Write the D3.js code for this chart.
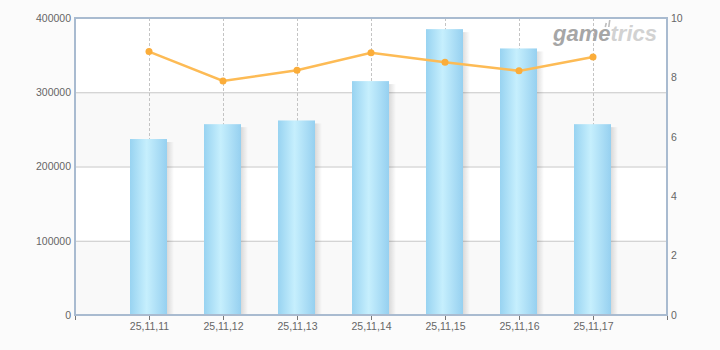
<!DOCTYPE html>
<html>
<head>
<meta charset="utf-8">
<script src="https://cdn.jsdelivr.net/npm/d3@7"></script>
<style>
  body { margin: 0; background: #fbfbfb; }
  text { font-family: "Liberation Sans", Arial, sans-serif; }
</style>
</head>
<body>
<div id="chart"></div>
<script>
// data
let categories = ["25,11,11", "25,11,12", "25,11,13", "25,11,14", "25,11,15", "25,11,16", "25,11,17"];
let barValues = [237000, 257000, 262000, 315000, 385000, 359000, 257000];
let lineValues = [8.87, 7.88, 8.24, 8.83, 8.51, 8.22, 8.69];
let leftTicks = [0, 100000, 200000, 300000, 400000];
let rightTicks = [0, 2, 4, 6, 8, 10];

let svgWidth = 720;
let svgHeight = 350;
let margin = { top: 18, right: 53, bottom: 35, left: 75 };
let width = svgWidth - margin.left - margin.right;
let height = svgHeight - margin.top - margin.bottom;

let svg = d3.select("#chart")
    .append("svg")
    .attr("width", svgWidth)
    .attr("height", svgHeight);

let defs = svg.append("defs");

let barGrad = defs.append("linearGradient").attr("id", "barGrad");
barGrad.append("stop").attr("offset", "0%").attr("stop-color", "#98d3f1");
barGrad.append("stop").attr("offset", "45%").attr("stop-color", "#c6effd");
barGrad.append("stop").attr("offset", "100%").attr("stop-color", "#96d0f0");

let shadowGrad = defs.append("linearGradient").attr("id", "shadowGrad");
shadowGrad.append("stop").attr("offset", "0%").attr("stop-color", "#000").attr("stop-opacity", 0.13);
shadowGrad.append("stop").attr("offset", "100%").attr("stop-color", "#000").attr("stop-opacity", 0);

let chart = svg.append("g")
    .attr("transform", `translate(${margin.left}, ${margin.top})`);

// scales
let x = d3.scaleLinear().domain([0, categories.length + 1]).range([0, width]);
let yLeft = d3.scaleLinear().domain([0, 400000]).range([height, 0]);
let yRight = d3.scaleLinear().domain([0, 10]).range([height, 0]);

// alternating bands
chart.selectAll(".band")
    .data(d3.range(leftTicks.length - 1))
    .enter()
    .append("rect")
    .attr("x", 0)
    .attr("width", width)
    .attr("y", i => yLeft(leftTicks[i + 1]))
    .attr("height", i => yLeft(leftTicks[i]) - yLeft(leftTicks[i + 1]))
    .attr("fill", i => i % 2 == 0 ? "#f9f9f9" : "#ffffff");

// horizontal grid
chart.selectAll(".hgrid")
    .data(leftTicks.slice(1, -1))
    .enter()
    .append("line")
    .attr("x1", 0)
    .attr("x2", width)
    .attr("y1", d => yLeft(d) + 0.5)
    .attr("y2", d => yLeft(d) + 0.5)
    .attr("stroke", "#c8c8c8");

// vertical dashed grid
chart.selectAll(".vgrid")
    .data(categories)
    .enter()
    .append("line")
    .attr("x1", (d, i) => Math.round(x(i + 1)) + 0.5)
    .attr("x2", (d, i) => Math.round(x(i + 1)) + 0.5)
    .attr("y1", 0)
    .attr("y2", height)
    .attr("stroke", "#c4c4c4")
    .attr("stroke-dasharray", "3,2");

// bars + shadow
let barW = 37;
chart.selectAll(".shadow")
    .data(barValues)
    .enter()
    .append("rect")
    .attr("x", (d, i) => x(i + 1) + barW / 2 - 0.5)
    .attr("y", d => yLeft(d) + 3)
    .attr("width", 7)
    .attr("height", d => height - yLeft(d) - 3)
    .attr("fill", "url(#shadowGrad)");

chart.selectAll(".bar")
    .data(barValues)
    .enter()
    .append("rect")
    .attr("x", (d, i) => x(i + 1) - barW / 2 - 0.5)
    .attr("y", d => yLeft(d))
    .attr("width", barW)
    .attr("height", d => height - yLeft(d))
    .attr("fill", "url(#barGrad)");

// watermark
let wm = chart.append("text")
    .attr("x", width - 10)
    .attr("y", 23)
    .attr("text-anchor", "end")
    .style("font-weight", "bold")
    .style("font-style", "italic")
    .style("font-size", "22px");
wm.append("tspan").attr("fill", "#a6a6a6").text("game");
wm.append("tspan").attr("fill", "#d2d2d2").text("trics");

// little marks over the "e"
let wmNode = wm.node();
let eStart = wmNode.getStartPositionOfChar(3);
chart.selectAll(".wmark")
    .data([0, 1])
    .enter()
    .append("line")
    .attr("x1", d => eStart.x + 8 + d * 3.5)
    .attr("x2", d => eStart.x + 7 + d * 3.5)
    .attr("y1", d => d == 0 ? 5 : 2)
    .attr("y2", 9)
    .attr("stroke", "#bdbdbd")
    .attr("stroke-width", 1.6);

// line
let line = d3.line()
    .x((d, i) => x(i + 1))
    .y(d => yRight(d));

chart.append("path")
    .datum(lineValues)
    .attr("d", line)
    .attr("fill", "none")
    .attr("stroke", "#fdbb55")
    .attr("stroke-width", 2.5);

chart.selectAll(".dot")
    .data(lineValues)
    .enter()
    .append("circle")
    .attr("cx", (d, i) => x(i + 1))
    .attr("cy", d => yRight(d))
    .attr("r", 3.5)
    .attr("fill", "#fbad3a");

// frame
chart.append("rect")
    .attr("x", 0)
    .attr("y", 0)
    .attr("width", width)
    .attr("height", height)
    .attr("fill", "none")
    .attr("stroke", "#a9bbd0")
    .attr("stroke-width", 2);

// axes
let xAxis = d3.axisBottom(x)
    .tickValues(d3.range(0, categories.length + 2))
    .tickFormat(i => categories[i - 1] || "")
    .tickSize(4)
    .tickPadding(3);

let xg = chart.append("g")
    .attr("transform", `translate(0, ${height + 1})`)
    .call(xAxis);
xg.select(".domain").remove();

let leftAxis = d3.axisLeft(yLeft)
    .tickValues(leftTicks)
    .tickFormat(d3.format("d"))
    .tickSize(0)
    .tickPadding(4);
let lg = chart.append("g").call(leftAxis);
lg.select(".domain").remove();

let rightAxis = d3.axisRight(yRight)
    .tickValues(rightTicks)
    .tickSize(0)
    .tickPadding(4);
let rg = chart.append("g")
    .attr("transform", `translate(${width}, 0)`)
    .call(rightAxis);
rg.select(".domain").remove();

svg.selectAll(".tick text")
    .attr("fill", "#666")
    .style("font-size", "10.5px");
svg.selectAll(".tick line")
    .attr("stroke", "#777");
</script>
</body>
</html>
